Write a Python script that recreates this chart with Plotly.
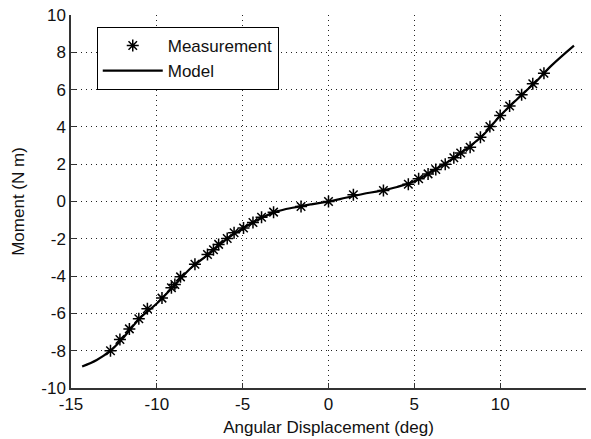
import plotly.graph_objects as go

# Measurement points (deg, N m)
meas_x = [-12.7, -12.15, -11.6, -11.05, -10.55, -9.7, -9.15, -8.95, -8.62, -7.78,
          -7.05, -6.7, -6.4, -5.9, -5.5, -4.95, -4.4, -3.9, -3.2, -1.6,
          0.0, 1.45, 3.2, 4.65, 5.25, 5.8, 6.25, 6.8, 7.3, 7.7,
          8.25, 8.85, 9.4, 10.0, 10.55, 11.25, 11.9, 12.55]
meas_y = [-8.0, -7.4, -6.83, -6.29, -5.75, -5.18, -4.62, -4.45, -4.04, -3.36,
          -2.84, -2.59, -2.3, -1.98, -1.68, -1.42, -1.13, -0.84, -0.57, -0.27,
          0.0, 0.36, 0.59, 0.92, 1.22, 1.48, 1.72, 2.0, 2.35, 2.6,
          2.91, 3.45, 4.02, 4.61, 5.12, 5.72, 6.31, 6.88]

# Model curve
model_x = [-14.35, -13.5, -12.7, -12.0, -11.0, -10.0, -9.0, -8.0, -7.0, -6.0,
           -5.0, -4.0, -3.0, -2.0, -1.0, 0.0, 1.0, 2.0, 3.0, 4.0,
           5.0, 6.0, 7.0, 8.0, 9.0, 10.0, 11.0, 12.0, 13.0, 14.3]
model_y = [-8.85, -8.5, -8.0, -7.35, -6.27, -5.47, -4.52, -3.55, -2.84, -2.06,
           -1.44, -0.92, -0.53, -0.32, -0.15, 0.0, 0.2, 0.4, 0.57, 0.78,
           1.08, 1.6, 2.15, 2.8, 3.55, 4.6, 5.5, 6.35, 7.3, 8.36]

x_ticks = [-15, -10, -5, 0, 5, 10, 15]
x_ticktext = ["-15", "-10", "-5", "0", "5", "10", "15"]
y_ticks = [-10, -8, -6, -4, -2, 0, 2, 4, 6, 8, 10]
y_ticktext = ["-10", "-8", "-6", "-4", "-2", "0", "2", "4", "6", "8", "10"]

FONT = "Liberation Sans, Arial, sans-serif"
FS = 17

fig = go.Figure()
fig.add_trace(go.Scatter(
    x=meas_x, y=meas_y, mode="markers", name="Measurement",
    marker=dict(symbol="asterisk-open", size=10, color="black",
                line=dict(color="black", width=1.5)),
))
fig.add_trace(go.Scatter(
    x=model_x, y=model_y, mode="lines", name="Model",
    line=dict(color="black", width=2.2, shape="spline"),
))

axis_common = dict(
    showline=True, linecolor="#333333", linewidth=1.5,
    ticks="inside", ticklen=5, tickcolor="#333333", tickwidth=1,
    showgrid=True, gridcolor="#222222", gridwidth=1, griddash="1px,4px",
    zeroline=False, mirror=False,
    tickfont=dict(family=FONT, size=FS, color="#111111"),
)

fig.update_xaxes(
    range=[-15, 15], tickvals=x_ticks, ticktext=x_ticktext,
    title=dict(text="Angular Displacement (deg)", font=dict(family=FONT, size=FS, color="#111111"), standoff=8),
    automargin=False, **axis_common,
)
fig.update_yaxes(
    range=[-10, 10], tickvals=y_ticks, ticktext=y_ticktext,
    title=dict(text="Moment (N m)", font=dict(family=FONT, size=FS, color="#111111"), standoff=12),
    automargin=False, **axis_common,
)

fig.update_layout(
    width=591, height=439,
    margin=dict(l=71, r=5, t=15, b=51),
    paper_bgcolor="white", plot_bgcolor="white",
    font=dict(family=FONT, size=FS, color="#111111"),
    legend=dict(
        x=0.05, y=0.968, xanchor="left", yanchor="top",
        bgcolor="white", bordercolor="black", borderwidth=1,
        font=dict(family=FONT, size=FS, color="#111111"),
        itemwidth=60, tracegroupgap=0,
    ),
    showlegend=True,
)

fig.write_html("out.html")
